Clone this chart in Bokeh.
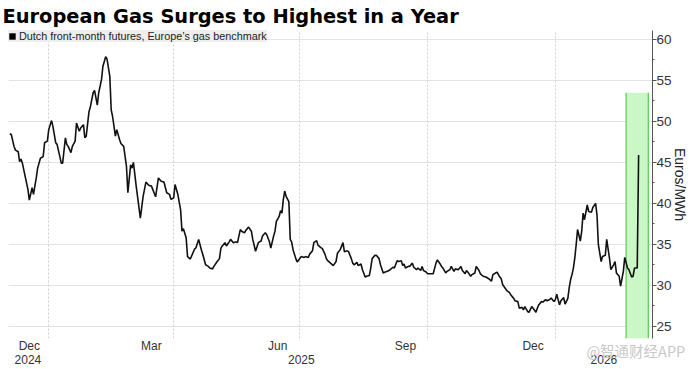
import pandas as pd
from bokeh.plotting import figure
from bokeh.models import (Range1d, LinearAxis, FixedTicker, Grid, BoxAnnotation,
                          Legend, LegendItem, ColumnDataSource)
from bokeh.embed import file_html
from bokeh.resources import INLINE

# ---------------- data ----------------
title_text = "European Gas Surges to Highest in a Year"
legend_label = "Dutch front-month futures, Europe\u2019s gas benchmark"
axis_title = "Euros/MWh"

start_date = "2024-12-04"
day_offsets = [
    0, 1, 3, 4, 6, 7, 8, 9, 11, 13,
    14, 16, 17, 19, 20, 22, 24, 25, 27, 28,
    30, 31, 33, 34, 36, 37, 38, 40, 41, 42,
    44, 45, 47, 48, 50, 51, 53, 54, 55, 57,
    58, 60, 61, 63, 64, 66, 67, 69, 70, 72,
    73, 74, 76, 77, 79, 80, 82, 84, 85, 87,
    88, 89, 91, 94, 96, 98, 100, 102, 105, 107,
    109, 111, 113, 115, 116, 118, 119, 121, 123, 124,
    125, 127, 128, 130, 131, 133, 134, 136, 138, 139,
    141, 143, 144, 146, 147, 149, 151, 152, 153, 155,
    156, 158, 159, 161, 163, 164, 166, 167, 169, 170,
    172, 174, 175, 177, 179, 181, 182, 184, 185, 187,
    188, 190, 191, 192, 194, 195, 196, 197, 198, 199,
    201, 202, 203, 204, 206, 207, 209, 210, 212, 213,
    215, 216, 218, 219, 221, 222, 224, 225, 227, 228,
    229, 231, 233, 235, 236, 238, 240, 241, 243, 244,
    246, 247, 248, 250, 251, 253, 254, 256, 257, 259,
    260, 261, 263, 264, 266, 267, 269, 270, 272, 273,
    274, 276, 277, 279, 280, 282, 283, 284, 285, 287,
    288, 290, 291, 293, 294, 296, 297, 298, 300, 301,
    303, 305, 307, 308, 310, 311, 312, 314, 315, 317,
    318, 320, 321, 323, 325, 326, 328, 329, 330, 332,
    333, 335, 336, 338, 339, 341, 343, 345, 347, 348,
    350, 351, 353, 354, 355, 357, 358, 360, 361, 363,
    364, 366, 367, 369, 370, 371, 373, 374, 376, 377,
    379, 380, 381, 383, 384, 386, 387, 389, 390, 392,
    393, 394, 396, 397, 399, 400, 402, 403, 404, 405,
    406, 407, 408, 409, 411, 412, 413, 414, 416, 417,
    419, 420, 422, 423, 424, 426, 427, 429, 430, 432,
    433, 435, 436, 437, 439, 440, 442, 443, 445, 446,
    448, 449, 450, 452, 453,
]
prices = [
    48.5, 48.4, 46.95, 46.5, 46.3, 45.1, 45.4, 44.9, 43.3, 41.7,
    40.4, 41.9, 41.1, 43.1, 44.3, 45.5, 45.7, 47.4, 47.6, 49.0,
    50.1, 49.4, 47.4, 47.2, 45.7, 44.9, 44.9, 48.0, 47.2, 46.95,
    46.2, 46.95, 47.6, 49.8, 48.8, 49.2, 49.6, 48.0, 48.2, 51.2,
    51.8, 53.5, 53.8, 52.0, 53.5, 55.1, 56.7, 57.9, 57.6, 55.5,
    51.4, 50.6, 48.2, 49.0, 47.8, 47.3, 46.95, 44.5, 41.3, 44.7,
    44.3, 45.0, 42.1, 38.2, 40.85, 42.6, 42.2, 42.1, 40.8, 43.1,
    42.7, 42.6, 41.3, 41.1, 40.5, 40.65, 42.3, 41.1, 39.2, 36.6,
    36.9, 35.8, 33.5, 33.2, 33.6, 34.4, 34.55, 35.6, 34.3, 33.75,
    32.5, 32.3, 32.1, 32.0, 32.3, 32.8, 33.25, 34.5, 34.8, 35.2,
    34.8, 35.3, 35.6, 35.2, 35.3, 35.2, 36.8, 36.6, 36.4, 36.7,
    37.1, 36.6, 35.6, 34.15, 35.2, 35.4, 36.0, 36.4, 36.2, 35.3,
    34.55, 36.0, 36.6, 37.8, 38.4, 39.1, 38.8, 40.45, 41.5, 40.85,
    40.2, 35.6, 35.3, 34.35, 33.25, 32.85, 33.3, 33.5, 33.4, 33.5,
    33.4, 33.8, 34.2, 35.2, 35.45, 34.9, 34.6, 34.5, 33.8, 33.25,
    33.0, 32.7, 32.4, 32.9, 33.9, 34.35, 35.2, 34.1, 34.2, 34.1,
    33.25, 32.7, 32.5, 32.8, 32.4, 32.6, 31.9, 31.0, 31.1, 31.2,
    32.1, 33.25, 33.65, 33.65, 33.25, 32.5, 31.5, 31.6, 31.7, 31.8,
    31.9, 32.2, 32.1, 33.0, 32.9, 33.0, 32.4, 32.6, 32.1, 32.3,
    32.3, 32.7, 32.2, 31.9, 32.1, 31.8, 32.3, 31.8, 31.6, 31.4,
    31.4, 31.4, 32.7, 33.1, 32.6, 32.3, 32.1, 31.5, 31.7, 31.9,
    32.3, 31.7, 32.0, 31.9, 32.3, 31.8, 31.4, 31.8, 31.6, 31.1,
    31.3, 31.5, 32.3, 31.8, 31.4, 31.1, 31.0, 30.8, 30.5, 31.3,
    31.5, 31.6, 31.0, 30.8, 30.1, 29.6, 29.35, 29.1, 28.8, 28.4,
    28.1, 28.0, 27.2, 27.3, 27.0, 27.4, 26.8, 26.7, 27.4, 27.2,
    26.7, 27.2, 27.6, 28.0, 27.95, 28.25, 28.1, 28.25, 28.45, 28.0,
    28.25, 28.9, 27.6, 28.1, 28.5, 27.7, 28.4, 29.7, 30.7, 31.3,
    32.1, 33.3, 34.95, 36.8, 35.4, 36.6, 38.8, 38.0, 39.8, 39.0,
    38.9, 39.5, 40.0, 38.6, 34.95, 32.9, 33.5, 33.65, 35.6, 33.3,
    31.9, 32.5, 32.9, 31.5, 31.1, 29.9, 31.7, 33.4, 32.1, 31.9,
    31.0, 31.1, 32.1, 32.1, 45.9,
]

highlight_start = "2026-02-21"
highlight_end = "2026-03-09"
highlight_top = 53.5

x_start, x_end = "2024-12-03", "2026-03-12"
y_min, y_max = 23.5, 61.1
y_ticks = [25, 30, 35, 40, 45, 50, 55, 60]

grid_dates = ["2025-01-01", "2025-04-01", "2025-07-01", "2025-10-01", "2026-01-01"]
month_label_dates = ["2024-12-18", "2025-03-16", "2025-06-15", "2025-09-15", "2025-12-16"]
month_labels = ["Dec", "Mar", "Jun", "Sep", "Dec"]
year_label_dates = ["2024-12-17", "2025-07-02", "2026-02-05"]
year_labels = ["2024", "2025", "2026"]

watermark_dates = ["2026-02-28"]
watermark_labels = ["@智通财经APP"]

# ---------------- helpers ----------------
def ms(d):
    return int(pd.Timestamp(d).value // 10**6)

dates = pd.Timestamp(start_date) + pd.to_timedelta(day_offsets, unit="D")
src = ColumnDataSource(dict(date=dates, price=prices))

FONT = "Liberation Sans"
TXT = "#333333"

p = figure(frame_width=644, frame_height=308,
           x_axis_type=None, y_axis_type=None,
           x_range=Range1d(ms(x_start), ms(x_end)),
           y_range=Range1d(y_min, y_max),
           toolbar_location=None, output_backend="svg",
           min_border_left=8, min_border_right=0,
           min_border_top=29, min_border_bottom=0,
           outline_line_color=None)

p.title.text = title_text
p.title.text_font = "DejaVu Sans"
p.title.text_font_size = "19.4px"
p.title.text_font_style = "bold"
p.title.text_color = "#000000"
p.title.standoff = 5
p.title.offset = -6

# grids
p.add_layout(Grid(dimension=1, ticker=FixedTicker(ticks=y_ticks),
                  grid_line_color="#e3e3e3", grid_line_width=1))
p.add_layout(Grid(dimension=0, ticker=FixedTicker(ticks=[ms(d) for d in grid_dates]),
                  grid_line_color="#cfcfcf", grid_line_width=1, grid_line_dash="2 2"))

# highlight
p.add_layout(BoxAnnotation(left=ms(highlight_start), right=ms(highlight_end),
                           top=highlight_top, fill_color="#cbf6c6", fill_alpha=1,
                           line_color=None, level="underlay"))
p.segment(x0=[ms(highlight_start), ms(highlight_end)], y0=[y_min, y_min],
          x1=[ms(highlight_start), ms(highlight_end)], y1=[highlight_top, highlight_top],
          line_color="#66cc5e", line_width=1.3)

# series
p.line("date", "price", source=src, line_color="#111111", line_width=1.6)

# legend (area renderer with no visible data, gives a filled square swatch)
nan = float("nan")
dummy = p.quad(left=[nan], right=[nan], bottom=[nan], top=[nan],
               fill_color="#000000", line_color=None)
legend = Legend(items=[LegendItem(label=legend_label, renderers=[dummy])],
                location="top_left", margin=0, padding=5, spacing=0,
                background_fill_color="#eeeeee", background_fill_alpha=1,
                border_line_color=None, glyph_width=8, glyph_height=8,
                label_standoff=3, label_height=12,
                label_text_font=FONT, label_text_font_size="10.8px",
                label_text_color="#222222")
p.add_layout(legend)

# right axis
yax = LinearAxis(ticker=FixedTicker(ticks=y_ticks,
                                    minor_ticks=[t + 2.5 for t in y_ticks[:-1]]),
                 axis_label=axis_title)
yax.axis_line_color = "#555555"
yax.major_tick_line_color = "#555555"
yax.minor_tick_line_color = "#555555"
yax.major_tick_out = 4
yax.major_tick_in = 0
yax.minor_tick_out = 2
yax.minor_tick_in = 0
yax.major_label_text_font = FONT
yax.major_label_text_font_size = "13.5px"
yax.major_label_text_color = TXT
yax.major_label_standoff = 0
yax.axis_label_text_font = FONT
yax.axis_label_text_font_size = "14px"
yax.axis_label_text_font_style = "normal"
yax.axis_label_text_color = "#222222"
yax.axis_label_standoff = -3
p.add_layout(yax, "right")

# bottom axes (months, then years, then the faint re-publisher watermark)
def make_xaxis(tick_dates, labels, standoff, size="12px", color=TXT, font=FONT):
    ticks = [ms(d) for d in tick_dates]
    ax = LinearAxis(ticker=FixedTicker(ticks=ticks),
                    major_label_overrides=dict(zip(ticks, labels)))
    ax.axis_line_color = None
    ax.major_tick_line_color = None
    ax.minor_tick_line_color = None
    ax.major_tick_out = 0
    ax.major_tick_in = 0
    ax.minor_tick_out = 0
    ax.major_label_standoff = standoff
    ax.major_label_text_font = font
    ax.major_label_text_font_size = size
    ax.major_label_text_color = color
    return ax

p.add_layout(make_xaxis(month_label_dates, month_labels, 0), "below")
p.add_layout(make_xaxis(year_label_dates, year_labels, -1), "below")
p.add_layout(make_xaxis(watermark_dates, watermark_labels, -27, size="14.5px",
                        color="#c8c8c8", font="Noto Sans CJK SC"), "below")

open("out.html", "w").write(file_html(p, INLINE))
